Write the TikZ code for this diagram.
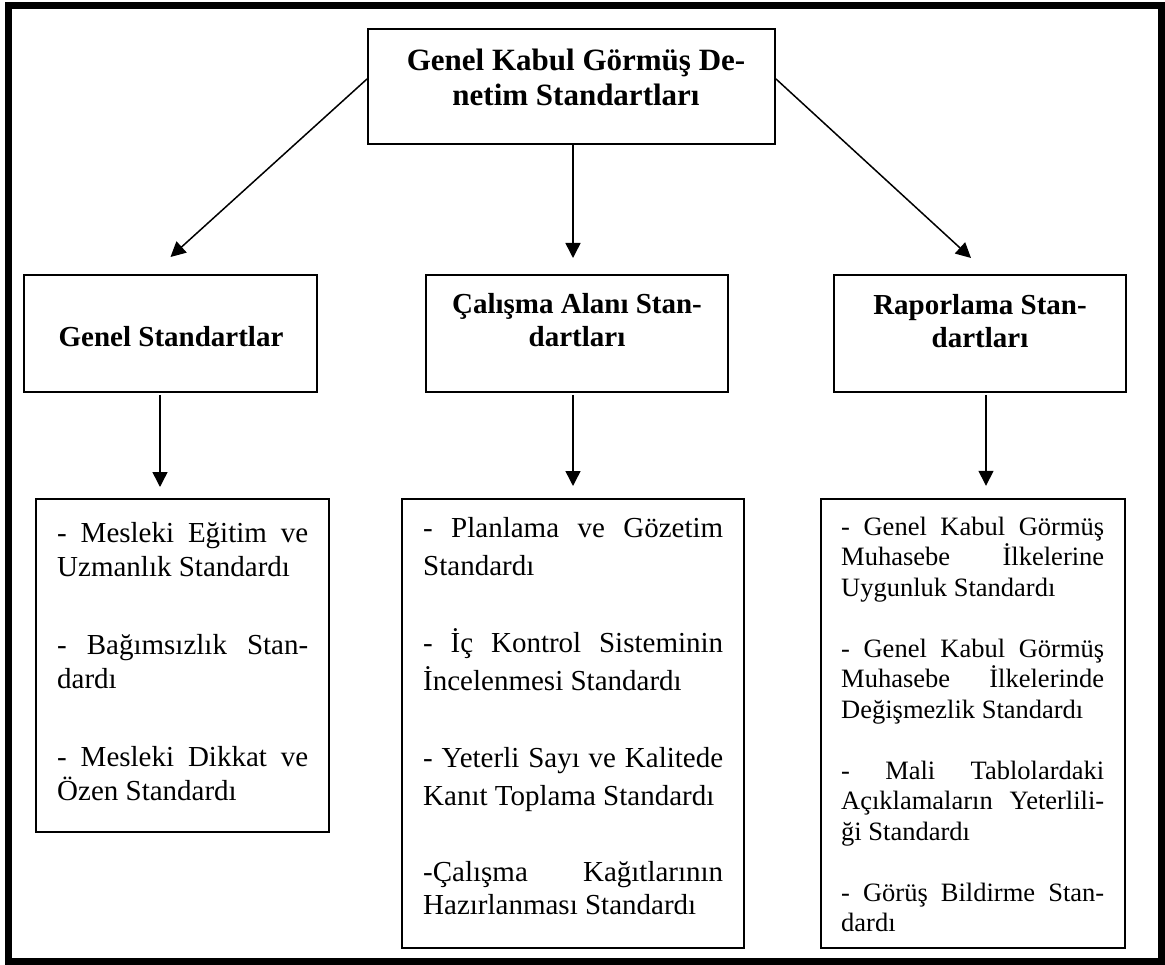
\documentclass[tikz,border=0pt]{standalone}
\usepackage{fontspec}
\setmainfont{Liberation Serif}
\usetikzlibrary{arrows.meta}
\newcommand\jl[2]{\makebox[#1][s]{#2}}
\tikzset{
  box/.style={draw, line width=2pt, rectangle, inner sep=0pt},
  arr/.style={line width=1.5pt, -{Triangle[length=15pt,width=15pt]}},
  head/.style={font=\bfseries\fontsize{29}{33.5}\selectfont, align=center, anchor=base, inner sep=0pt},
  body/.style={align=left, anchor=base west, inner sep=0pt}
}
\begin{document}
\begin{tikzpicture}[x=1pt,y=-1pt]
\useasboundingbox (0,0) rectangle (1165,965);
\draw[line width=7pt] (8.5,6) rectangle (1161.5,961.5);
% boxes
\node[box, minimum width=407pt, minimum height=115pt] (top) at (571.5,86.5) {};
\node[box, minimum width=293pt, minimum height=117pt] (gs) at (170.5,333.5) {};
\node[box, minimum width=302pt, minimum height=117pt] (cas) at (577,333.5) {};
\node[box, minimum width=292pt, minimum height=117pt] (rs) at (980,333.5) {};
\node[box, minimum width=293pt, minimum height=333pt] (gl) at (182.5,665.5) {};
\node[box, minimum width=342pt, minimum height=449pt] (cl) at (573,723.5) {};
\node[box, line width=2.4pt, minimum width=304pt, minimum height=449pt] (rl) at (973,723.5) {};
% headings (anchor base = baseline of last line)
\node[head, font=\bfseries\fontsize{31}{35.5}\selectfont] (ttop) at (576,106) {Genel Kabul Görmüş De-\\netim Standartları};
\node[head] (tgs) at (171,347) {Genel Standartlar};
\node[head] (tcas) at (577,347) {Çalışma Alanı Stan-\\dartları};
\node[head] (trs) at (980,348) {Raporlama Stan-\\dartları};
% bodies
\node[body, font=\fontsize{29}{34}\selectfont] (tgl) at (57,800) {%
\jl{251pt}{- Mesleki Eğitim ve}\\
Uzmanlık Standardı\\[44pt]
\jl{251pt}{- Bağımsızlık Stan-}\\
dardı\\[44pt]
\jl{251pt}{- Mesleki Dikkat ve}\\
Özen Standardı};
\node[body, font=\fontsize{29}{38}\selectfont] (tcl) at (423,914) {%
\jl{300pt}{- Planlama ve Gözetim}\\
Standardı\\[39pt]
\jl{300pt}{- İç Kontrol Sisteminin}\\
İncelenmesi Standardı\\[39pt]
\jl{300pt}{- Yeterli Sayı ve Kalitede}\\
Kanıt Toplama Standardı\\[38pt]
\jl{300pt}{-Çalışma Kağıtlarının}\\[-5pt]
Hazırlanması Standardı};
\node[body, font=\fontsize{26.5}{30.5}\selectfont] (trl) at (841,931.5) {%
\jl{263pt}{- Genel Kabul Görmüş}\\
\jl{263pt}{Muhasebe İlkelerine}\\
Uygunluk Standardı\\[30.5pt]
\jl{263pt}{- Genel Kabul Görmüş}\\
\jl{263pt}{Muhasebe İlkelerinde}\\
Değişmezlik Standardı\\[30.5pt]
\jl{263pt}{- Mali Tablolardaki}\\
\jl{263pt}{Açıklamaların Yeterlili-}\\
ği Standardı\\[30.5pt]
\jl{263pt}{- Görüş Bildirme Stan-}\\
dardı};
% connectors
\draw[arr] ([yshift=7.5pt]top.west) -- ([yshift=17pt]gs.north);
\draw[arr] ([xshift=1.5pt]top.south) -- ([xshift=-4pt,yshift=16pt]cas.north);
\draw[arr] ([yshift=7.5pt]top.east) -- ([xshift=-9pt,yshift=16pt]rs.north);
\draw[arr] ([xshift=-10.5pt,yshift=-2pt]gs.south) -- ([xshift=-22.5pt,yshift=11pt]gl.north);
\draw[arr] ([xshift=-4pt,yshift=-2pt]cas.south) -- ([yshift=12pt]cl.north);
\draw[arr] ([xshift=6pt,yshift=-2pt]rs.south) -- ([xshift=13pt,yshift=12pt]rl.north);
\end{tikzpicture}
\end{document}
